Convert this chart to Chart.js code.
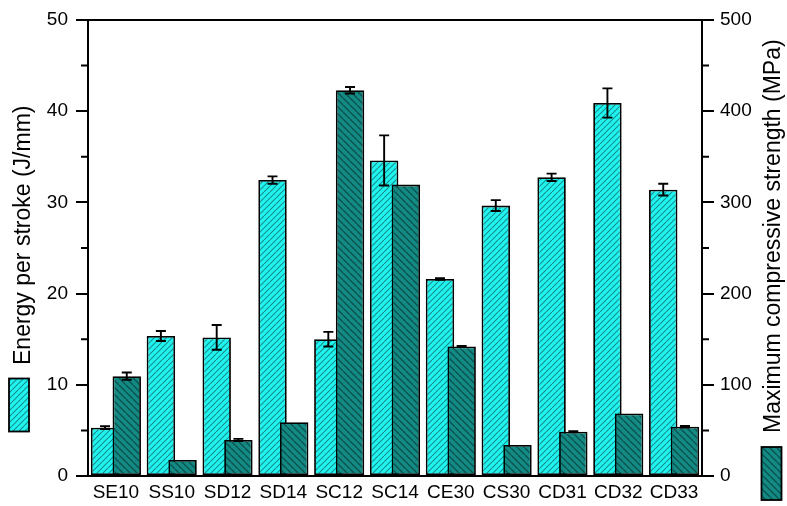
<!DOCTYPE html>
<html>
<head>
<meta charset="utf-8">
<script src="https://cdn.jsdelivr.net/npm/chart.js@4.4.1/dist/chart.umd.min.js"></script>
<style>
  html, body { margin: 0; padding: 0; background: #fff; }
  #wrap { position: relative; width: 787px; height: 506px; }
</style>
</head>
<body>
<div id="wrap"><canvas id="c"></canvas></div>
<script>
const categories = ['SE10','SS10','SD12','SD14','SC12','SC14','CE30','CS30','CD31','CD32','CD33'];
const energy      = [5.3, 15.35, 15.2, 32.45, 15.0, 34.6, 21.6, 29.65, 32.75, 40.9, 31.4];
const energyErr   = [0.15, 0.55, 1.35, 0.4, 0.8, 2.75, 0.1, 0.6, 0.4, 1.6, 0.65];
const strength    = [109.5, 17.5, 39.5, 59, 423, 319.5, 142, 34, 48.5, 68.5, 54];
const strengthErr = [4, 0, 1.2, 0, 3.6, 0, 0.5, 0, 0.5, 0, 0.8];
const leftTicks  = [0, 10, 20, 30, 40, 50];
const rightTicks = [0, 100, 200, 300, 400, 500];
const leftTitle  = 'Energy per stroke (J/mm)';
const rightTitle = 'Maximum compressive strength (MPa)';

const FONT = "'Liberation Sans', Arial, sans-serif";
const canvas = document.getElementById('c');
const ctx0 = canvas.getContext('2d');

function hatch(bg, fg, s, dir, lw) {
  const c = document.createElement('canvas');
  c.width = s; c.height = s;
  const g = c.getContext('2d');
  g.fillStyle = bg; g.fillRect(0, 0, s, s);
  g.strokeStyle = fg; g.lineWidth = lw;
  g.beginPath();
  if (dir > 0) {
    for (let k = -1; k <= 1; k++) { g.moveTo(k * s, s); g.lineTo(k * s + s, 0); }
  } else {
    for (let k = -1; k <= 1; k++) { g.moveTo(k * s, 0); g.lineTo(k * s + s, s); }
  }
  g.stroke();
  return ctx0.createPattern(c, 'repeat');
}
const cyanFill = hatch('#1FF4F0', '#178D8A', 6, 1, 1.1);
const darkFill = hatch('#148A84', '#0A504C', 7, -1, 1.3);

const overlay = {
  id: 'overlay',
  beforeDatasetDraw(chart, args) {
    if (args.index === 1) return false;
  },
  afterDatasetsDraw(chart) {
    const ctx = chart.ctx;
    const area = chart.chartArea;
    // dark series drawn over the cyan one
    chart.getDatasetMeta(1).controller.draw();
    // error bars
    const drawErr = (meta, vals, errs, scale) => {
      ctx.save();
      ctx.strokeStyle = '#000';
      ctx.lineWidth = 1.9;
      meta.data.forEach((el, i) => {
        const e = errs[i];
        if (!e) return;
        const x = el.x;
        const yt = scale.getPixelForValue(vals[i] + e);
        const yb = scale.getPixelForValue(vals[i] - e);
        ctx.beginPath();
        ctx.moveTo(x, yt); ctx.lineTo(x, yb);
        ctx.moveTo(x - 5, yt); ctx.lineTo(x + 5, yt);
        ctx.moveTo(x - 5, yb); ctx.lineTo(x + 5, yb);
        ctx.stroke();
      });
      ctx.restore();
    };
    drawErr(chart.getDatasetMeta(0), energy, energyErr, chart.scales.y);
    drawErr(chart.getDatasetMeta(1), strength, strengthErr, chart.scales.y1);

    ctx.save();
    ctx.strokeStyle = '#000';
    ctx.lineWidth = 2;
    // top frame
    ctx.beginPath();
    ctx.moveTo(area.left - 1, area.top); ctx.lineTo(area.right + 1, area.top);
    ctx.stroke();
    // minor ticks
    const ys = chart.scales.y, yr = chart.scales.y1;
    ctx.beginPath();
    for (let i = 0; i < leftTicks.length - 1; i++) {
      const v = (leftTicks[i] + leftTicks[i + 1]) / 2;
      const p = ys.getPixelForValue(v);
      ctx.moveTo(area.left - 7, p); ctx.lineTo(area.left, p);
    }
    for (let i = 0; i < rightTicks.length - 1; i++) {
      const v = (rightTicks[i] + rightTicks[i + 1]) / 2;
      const p = yr.getPixelForValue(v);
      ctx.moveTo(area.right, p); ctx.lineTo(area.right + 7, p);
    }
    ctx.stroke();

    // axis titles with swatches
    ctx.fillStyle = '#000';
    ctx.font = '23px ' + FONT;
    ctx.textAlign = 'left';
    ctx.textBaseline = 'alphabetic';
    ctx.save();
    ctx.translate(29.5, 365);
    ctx.rotate(-Math.PI / 2);
    ctx.fillText(leftTitle, 0, 0);
    ctx.restore();
    ctx.save();
    ctx.translate(780, 433);
    ctx.rotate(-Math.PI / 2);
    ctx.fillText(rightTitle, 0, 0);
    ctx.restore();

    ctx.lineWidth = 1.8;
    ctx.fillStyle = cyanFill;
    ctx.fillRect(9, 378.5, 20, 53);
    ctx.strokeRect(9, 378.5, 20, 53);
    ctx.fillStyle = darkFill;
    ctx.fillRect(761.5, 447, 20, 53);
    ctx.strokeRect(761.5, 447, 20, 53);
    ctx.restore();
  }
};

new Chart(canvas, {
  type: 'bar',
  data: {
    labels: categories,
    datasets: [
      {
        label: leftTitle,
        data: energy,
        yAxisID: 'y',
        backgroundColor: cyanFill,
        borderColor: '#000',
        borderWidth: 1.8,
        borderSkipped: false,
        categoryPercentage: 0.7775,
        barPercentage: 1.31
      },
      {
        label: rightTitle,
        data: strength,
        yAxisID: 'y1',
        backgroundColor: darkFill,
        borderColor: '#000',
        borderWidth: 1.8,
        borderSkipped: false,
        categoryPercentage: 0.7775,
        barPercentage: 1.31
      }
    ]
  },
  options: {
    responsive: true,
    maintainAspectRatio: false,
    animation: false,
    devicePixelRatio: 1,
    layout: { autoPadding: false, padding: { top: 20, left: 0, right: 0, bottom: 0 } },
    plugins: { legend: { display: false }, tooltip: { enabled: false }, title: { display: false } },
    scales: {
      x: {
        type: 'category',
        offset: true,
        grid: { display: false, drawTicks: false },
        border: { display: true, color: '#000', width: 2 },
        ticks: { color: '#000', font: { size: 19, family: FONT }, padding: 5, maxRotation: 0, autoSkip: false },
        afterFit(s) { s.height = 30; }
      },
      y: {
        position: 'left',
        min: 0, max: 50,
        afterBuildTicks(s) { s.ticks = leftTicks.map(v => ({ value: v })); },
        grid: { drawOnChartArea: false, drawTicks: true, tickLength: 12, color: '#000', lineWidth: 2 },
        border: { display: true, color: '#000', width: 2 },
        ticks: { color: '#000', font: { size: 19, family: FONT }, padding: 8 },
        afterFit(s) { s.width = 88; }
      },
      y1: {
        position: 'right',
        min: 0, max: 500,
        afterBuildTicks(s) { s.ticks = rightTicks.map(v => ({ value: v })); },
        grid: { drawOnChartArea: false, drawTicks: true, tickLength: 12, color: '#000', lineWidth: 2 },
        border: { display: true, color: '#000', width: 2 },
        ticks: { color: '#000', font: { size: 19, family: FONT }, padding: 6 },
        afterFit(s) { s.width = 85; }
      }
    }
  },
  plugins: [overlay]
});
</script>
</body>
</html>
